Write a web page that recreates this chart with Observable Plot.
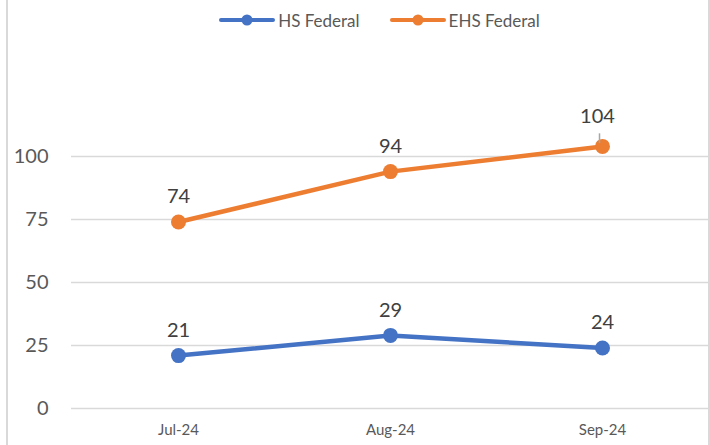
<!DOCTYPE html>
<html>
<head>
<meta charset="utf-8">
<script src="https://cdn.jsdelivr.net/npm/d3@7"></script>
<script src="https://cdn.jsdelivr.net/npm/@observablehq/plot@0.6"></script>
<style>
  html, body { margin: 0; padding: 0; background: #fff; }
  body { width: 710px; height: 445px; position: relative; overflow: hidden; font-family: Lato, "Open Sans", sans-serif; }
  #frame { position: absolute; left: 6px; top: 0; width: 700px; height: 445px; border-left: 2px solid #d9d9d9; border-right: 2px solid #d9d9d9; pointer-events: none; }
  #legend { height: 40px; display: flex; justify-content: center; align-items: center; gap: 30px; font-size: 17px; color: #595959; padding-left: 49px; box-sizing: border-box; }
  .item { display: flex; align-items: center; gap: 3px; }
  #chart svg { display: block; }
</style>
</head>
<body>
<div id="legend"></div>
<div id="chart"></div>
<div id="frame"></div>
<script>
const months = ["Jul-24", "Aug-24", "Sep-24"];
const seriesNames = ["HS Federal", "EHS Federal"];
const hsFederal = [21, 29, 24];
const ehsFederal = [74, 94, 104];
const yTicks = [0, 25, 50, 75, 100];
const colors = ["#4472C4", "#ED7D31"];

const data = [];
months.forEach((m, i) => {
  data.push({month: m, series: seriesNames[0], value: hsFederal[i]});
  data.push({month: m, series: seriesNames[1], value: ehsFederal[i]});
});
const lastEhs = data.filter(d => d.series === seriesNames[1] && d.month === months[2]);
const normalLabels = data.filter(d => !lastEhs.includes(d));

// Legend
const legend = document.getElementById("legend");
seriesNames.forEach((name, i) => {
  const item = document.createElement("div");
  item.className = "item";
  item.innerHTML = `<svg width="56" height="14"><line x1="2" y1="7" x2="54" y2="7" stroke="${colors[i]}" stroke-width="4" stroke-linecap="round"/><circle cx="28" cy="7" r="5.5" fill="${colors[i]}"/></svg><span>${name}</span>`;
  legend.appendChild(item);
});

const chart = Plot.plot({
  width: 710,
  height: 405,
  marginLeft: 71,
  marginRight: 1,
  marginTop: 53,
  marginBottom: 37,
  style: {fontFamily: "Lato, 'Open Sans', sans-serif", background: "transparent", overflow: "visible"},
  x: {type: "point", domain: months, padding: 0.5, label: null},
  y: {domain: [0, 125], label: null},
  color: {domain: seriesNames, range: colors},
  marks: [
    Plot.ruleY(yTicks, {stroke: "#d9d9d9", strokeWidth: 1.5}),
    Plot.axisY({ticks: yTicks, tickSize: 0, tickPadding: 23, fontSize: 20, fill: "#595959", label: null}),
    Plot.axisX({tickSize: 0, tickPadding: 16, fontSize: 15, fill: "#595959", label: null}),
    Plot.lineY(data, {x: "month", y: "value", stroke: "series", strokeWidth: 4.5, strokeLinecap: "round"}),
    Plot.dot(data, {x: "month", y: "value", fill: "series", r: 7.5}),
    Plot.link(lastEhs, {x1: "month", x2: "month", y1: d => d.value + 1.3, y2: d => d.value + 5.2, dx: -3, stroke: "#a6a6a6", strokeWidth: 1.5}),
    Plot.text(normalLabels, {x: "month", y: "value", text: d => String(d.value), dy: -25, fontSize: 20, fill: "#404040"}),
    Plot.text(lastEhs, {x: "month", y: "value", text: d => String(d.value), dy: -30, dx: -5, fontSize: 20, fill: "#404040"})
  ]
});
document.getElementById("chart").appendChild(chart);
</script>
</body>
</html>
